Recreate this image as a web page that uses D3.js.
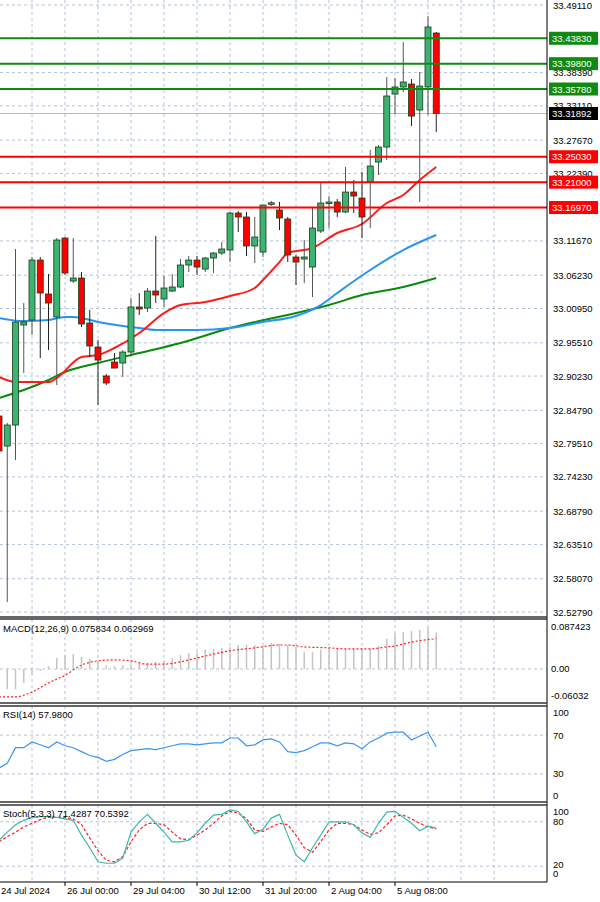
<!DOCTYPE html>
<html>
<head>
<meta charset="utf-8">
<script src="https://cdn.jsdelivr.net/npm/d3@7"></script>
<style>
  body { margin: 0; background: #fff; }
  text { font-family: "Liberation Sans", Arial, sans-serif; font-size: 9.5px; }
</style>
</head>
<body>
<svg id="chart" width="600" height="902"></svg>
<script>
// candle index (4h bars), 0 = 26 Jul 00:00
const idx = d3.range(-8, 46);
const opens  = [32.8389,32.7913,32.8246,32.9833,32.9912,33.0864,33.0325,32.9960,33.1213,33.0531,33.0579,32.9865,32.9484,32.9024,32.9246,32.9230,32.9404,33.0119,33.0103,33.0372,33.0246,33.0372,33.0436,33.0785,33.0864,33.0721,33.0896,33.0975,33.1023,33.1610,33.1547,33.1087,33.0991,33.1765,33.1658,33.1515,33.0912,33.0880,33.0753,33.1325,33.1769,33.1785,33.1626,33.1943,33.1848,33.2102,33.2419,33.2657,33.3498,33.3610,33.3657,33.3245,33.3610,33.4466];
const highs  = [32.8484,32.8278,33.1039,33.0182,33.0912,33.0912,33.0642,33.1213,33.1229,33.1213,33.0674,33.0071,32.9595,32.9055,32.9389,32.9436,33.0261,33.0341,33.0420,33.1245,33.0610,33.0642,33.0880,33.0928,33.0928,33.0912,33.0991,33.1150,33.1626,33.1642,33.1626,33.1547,33.1737,33.1801,33.1785,33.1547,33.0944,33.1182,33.1689,33.2086,33.1880,33.1832,33.2340,33.2134,33.2261,33.2610,33.2689,33.3768,33.3752,33.4324,33.3736,33.3848,33.4736,33.4482];
const lows   = [32.7770,32.5437,32.7691,32.9071,32.9674,32.9309,32.9436,32.8881,33.0626,33.0499,32.9801,32.9325,32.8563,32.8881,32.9150,32.9008,32.9357,32.9992,33.0039,33.0182,33.0119,33.0357,33.0420,33.0674,33.0626,33.0674,33.0658,33.0944,33.0832,33.1309,33.0928,33.0817,33.0912,33.1721,33.1340,33.0832,33.0468,33.0499,33.0277,33.1293,33.1372,33.1547,33.1610,33.1610,33.1213,33.1372,33.2213,33.2451,33.3181,33.3530,33.2991,33.1785,33.3165,33.2895];
const closes = [32.7834,32.8246,32.9881,32.9881,33.0864,33.0341,33.0182,33.1182,33.0658,33.0579,32.9849,32.9500,32.9277,32.8913,32.9150,32.9404,33.0119,33.0087,33.0372,33.0309,33.0420,33.0436,33.0785,33.0864,33.0753,33.0896,33.0975,33.1039,33.1610,33.1547,33.1087,33.1229,33.1737,33.1772,33.1531,33.0944,33.0832,33.0912,33.1372,33.1769,33.1785,33.1626,33.1943,33.1880,33.1547,33.2356,33.2657,33.3467,33.3610,33.3689,33.3149,33.3625,33.4562,33.3189];

// moving averages read at selected bars: [index, value]
const maRed = [[-8,32.9008],[-6,32.8928],[-2,32.8928],[-1,32.8992],[2,32.9325],[4,32.9357],[6,32.9468],[9,32.9706],[12,33.0023],[14,33.0150],[17,33.0198],[20,33.0293],[23,33.0420],[24,33.0547],[26,33.0832],[27,33.0975],[30,33.1055],[33,33.1293],[36,33.1436],[39,33.1769],[41,33.1896],[43,33.2134],[45,33.2340]];
const maBlue = [[-8,32.9944],[-5,32.9896],[-2,32.9912],[0,32.9960],[1,32.9960],[4,32.9881],[7,32.9817],[9,32.9785],[11,32.9754],[16,32.9754],[20,32.9785],[24,32.9881],[28,32.9976],[31,33.0150],[33,33.0341],[37,33.0706],[41,33.1023],[45,33.1261]];
const maGreen = [[-8,32.8675],[-5,32.8801],[-2,32.8960],[0,32.9087],[4,32.9230],[9,32.9389],[14,32.9547],[20,32.9785],[28,33.0023],[32,33.0150],[36,33.0309],[41,33.0436],[45,33.0579]];

const levelsGreen = [33.4383, 33.3980, 33.3578];
const levelsRed = [33.2503, 33.2100, 33.1697];
const lastPrice = 33.31892;
const priceTicks = [33.49110,33.38390,33.33110,33.27670,33.22390,33.11670,33.06230,33.00950,32.95510,32.90230,32.84790,32.79510,32.74230,32.68790,32.63510,32.58070,32.52790];
const priceGrid = [33.49110,33.43830,33.38390,33.33110,33.27670,33.22390,33.16970,33.11670,33.06230,33.00950,32.95510,32.90230,32.84790,32.79510,32.74230,32.68790,32.63510,32.58070,32.52790];

const macdHist = [-0.042,-0.042,-0.042,-0.029,-0.010,-0.004,0.006,0.023,0.029,0.031,0.025,0.021,0.015,0.008,0.006,0.008,0.010,0.013,0.013,0.015,0.017,0.023,0.029,0.033,0.035,0.040,0.042,0.044,0.046,0.050,0.050,0.050,0.048,0.054,0.052,0.050,0.046,0.035,0.035,0.040,0.044,0.042,0.042,0.042,0.042,0.042,0.048,0.063,0.075,0.077,0.079,0.081,0.087,0.0758];
const macdSignal = [[-8,-0.058],[-6,-0.058],[-4,-0.048],[-2,-0.029],[0,-0.013],[2,0.008],[4,0.017],[6,0.019],[8,0.017],[10,0.010],[12,0.010],[14,0.015],[16,0.023],[18,0.031],[20,0.038],[23,0.044],[26,0.050],[27,0.050],[29,0.046],[32,0.044],[34,0.042],[37,0.042],[39,0.046],[40,0.048],[42,0.056],[45,0.063]];

const rsi = [36,41,57,57,63,60,57,63,59,57,53,49,47,43,45,50,54,55,56,55,57,59,61,61,60,61,62,62,67,67,59,60,65,66,63,53,52,54,58,62,62,59,62,61,56,63,67,72,73,73,65,69,73,58];
const stochK = [55,66,76,82,86,87,87,86,84,82,62,45,26,24,24,31,66,80,90,78,66,53,53,55,65,78,89,90,96,94,80,64,70,85,90,62,35,26,45,62,80,80,80,76,65,59,78,93,94,86,78,68,74,71.4];
const stochD = [53,60,66,73,78,83,86,86,86,84,76,58,41,28,26,33,53,69,78,78,76,66,57,56,62,69,78,88,94,92,84,69,67,73,78,76,62,45,39,53,69,78,78,76,69,63,65,76,88,89,84,78,73,70.5];

const dateTicks = [[-8,"24 Jul 2024"],[0,"26 Jul 00:00"],[8,"29 Jul 04:00"],[16,"30 Jul 12:00"],[24,"31 Jul 20:00"],[32,"2 Aug 04:00"],[40,"5 Aug 08:00"]];

const svg = d3.select("#chart");
const plotRight = 547;
const gridColor = "#b4c2d8";

const x = d3.scaleLinear().domain([0, 1]).range([65, 73.25]);
const y = d3.scaleLinear().domain([32.52790, 33.49110]).range([612, 5]);
const yMacd = d3.scaleLinear().domain([-0.06032, 0.087423]).range([698, 627]);
const yRsi = d3.scaleLinear().domain([0, 100]).range([803, 706]);
const ySto = d3.scaleLinear().domain([0, 100]).range([881, 807]);

const panels = [[0, 617], [619, 703], [706, 802], [805, 882]];
const vgrid = d3.range(-8, 56, 4);

// grids
panels.forEach(p => {
  svg.append("g").selectAll("line").data(vgrid).join("line")
    .attr("x1", d => x(d)).attr("x2", d => x(d))
    .attr("y1", p[0]).attr("y2", p[1])
    .attr("stroke", gridColor).attr("stroke-dasharray", "3,3");
});
svg.append("g").selectAll("line").data(priceGrid).join("line")
  .attr("x1", 0).attr("x2", plotRight).attr("y1", d => y(d)).attr("y2", d => y(d))
  .attr("stroke", gridColor).attr("stroke-dasharray", "3,3");
[[yMacd, [0]], [yRsi, [70, 30]], [ySto, [80, 20]]].forEach(([s, vals]) => {
  svg.append("g").selectAll("line").data(vals).join("line")
    .attr("x1", 0).attr("x2", plotRight).attr("y1", d => s(d)).attr("y2", d => s(d))
    .attr("stroke", gridColor).attr("stroke-dasharray", "3,3");
});

// moving averages
const maLine = d3.line().x(d => x(d[0])).y(d => y(d[1])).curve(d3.curveMonotoneX);
[[maGreen, "#0a8a0a"], [maBlue, "#2a93ee"], [maRed, "#ff1a1a"]].forEach(([data, c]) => {
  svg.append("path").datum(data).attr("d", maLine)
    .attr("fill", "none").attr("stroke", c).attr("stroke-width", 2);
});

// current price line
svg.append("line").attr("x1", 0).attr("x2", plotRight)
  .attr("y1", y(lastPrice)).attr("y2", y(lastPrice)).attr("stroke", "#b0bccc");

// candles
const candles = idx.map((d, k) => ({ i: d, o: opens[k], h: highs[k], l: lows[k], c: closes[k] }));
const cg = svg.append("g").selectAll("g").data(candles).join("g");
cg.append("line")
  .attr("x1", d => x(d.i)).attr("x2", d => x(d.i))
  .attr("y1", d => y(d.h)).attr("y2", d => y(d.l))
  .attr("stroke", d => d.c >= d.o ? "#555" : "#222");
cg.append("rect")
  .attr("x", d => x(d.i) - 3).attr("width", 6)
  .attr("y", d => y(Math.max(d.o, d.c)))
  .attr("height", d => Math.max(1.5, Math.abs(y(d.o) - y(d.c))))
  .attr("fill", d => d.c >= d.o ? "#3cb371" : "#ff0000")
  .attr("stroke", "#1a3a1a").attr("stroke-width", 0.8);

// support / resistance levels
const levels = levelsGreen.map(v => ({ v, c: "#108a10" })).concat(levelsRed.map(v => ({ v, c: "#ff0000" })));
svg.append("g").selectAll("line").data(levels).join("line")
  .attr("x1", 0).attr("x2", plotRight).attr("y1", d => y(d.v)).attr("y2", d => y(d.v))
  .attr("stroke", d => d.c).attr("stroke-width", 2);

// panel borders
svg.append("rect").attr("x", 0).attr("y", 0).attr("width", 600).attr("height", 902).attr("fill", "none");
svg.append("line").attr("x1", plotRight).attr("x2", plotRight).attr("y1", 0).attr("y2", 882).attr("stroke", "#000");
[617, 619, 703, 706, 802, 805, 882].forEach(v => {
  svg.append("line").attr("x1", 0).attr("x2", plotRight).attr("y1", v).attr("y2", v)
    .attr("stroke", v === 882 ? "#000" : "#333").attr("stroke-width", v === 882 ? 1 : 1.5);
});

// price axis
svg.append("g").selectAll("text").data(priceTicks).join("text")
  .attr("x", 553).attr("y", d => y(d) + 3.5).attr("fill", "#000").text(d => d.toFixed(5));
const lab = svg.append("g").selectAll("g").data(levels).join("g");
lab.append("rect").attr("x", 549).attr("y", d => y(d.v) - 6.5).attr("width", 49).attr("height", 13).attr("fill", d => d.c);
lab.append("text").attr("x", 552).attr("y", d => y(d.v) + 3.5).attr("fill", "#fff").text(d => d.v.toFixed(5));
svg.append("rect").attr("x", 549).attr("y", y(lastPrice) - 6.5).attr("width", 49).attr("height", 13).attr("fill", "#000");
svg.append("text").attr("x", 552).attr("y", y(lastPrice) + 3.5).attr("fill", "#fff").text(lastPrice.toFixed(5));

// MACD
svg.append("g").selectAll("line").data(idx.map((d, k) => [d, macdHist[k]])).join("line")
  .attr("x1", d => x(d[0])).attr("x2", d => x(d[0]))
  .attr("y1", yMacd(0)).attr("y2", d => yMacd(d[1]))
  .attr("stroke", "#c4c4c4").attr("stroke-width", 1.5);
svg.append("path").datum(macdSignal)
  .attr("d", d3.line().x(d => x(d[0])).y(d => yMacd(d[1])).curve(d3.curveMonotoneX))
  .attr("fill", "none").attr("stroke", "#ff2020").attr("stroke-width", 1.2).attr("stroke-dasharray", "2,2");
svg.append("text").attr("x", 3).attr("y", 632).text("MACD(12,26,9) 0.075834 0.062969");
[[0.087423, "0.087423", 630], [0, "0.00", 672], [-0.06032, "-0.06032", 699]].forEach(t => {
  svg.append("text").attr("x", 551).attr("y", t[2]).text(t[1]);
});

// RSI
svg.append("path").datum(idx.map((d, k) => [d, rsi[k]]))
  .attr("d", d3.line().x(d => x(d[0])).y(d => yRsi(d[1])))
  .attr("fill", "none").attr("stroke", "#3b95f0").attr("stroke-width", 1.2);
svg.append("text").attr("x", 3).attr("y", 718).text("RSI(14) 57.9800");
[[100, 716], [70, yRsi(70) + 3.5], [30, yRsi(30) + 3.5], [0, 799]].forEach(t => {
  svg.append("text").attr("x", 553).attr("y", t[1]).text(t[0]);
});

// Stochastic
svg.append("path").datum(idx.map((d, k) => [d, stochD[k]]))
  .attr("d", d3.line().x(d => x(d[0])).y(d => ySto(d[1])))
  .attr("fill", "none").attr("stroke", "#ff2020").attr("stroke-width", 1.2).attr("stroke-dasharray", "3,2");
svg.append("path").datum(idx.map((d, k) => [d, stochK[k]]))
  .attr("d", d3.line().x(d => x(d[0])).y(d => ySto(d[1])))
  .attr("fill", "none").attr("stroke", "#3cb8a8").attr("stroke-width", 1.2);
svg.append("text").attr("x", 3).attr("y", 817).text("Stoch(5,3,3) 71.4287 70.5392");
[[100, 815], [80, 825], [20, 868], [0, 877]].forEach(t => {
  svg.append("text").attr("x", 553).attr("y", t[1]).text(t[0]);
});

// time axis
svg.append("g").selectAll("line").data(dateTicks).join("line")
  .attr("x1", d => x(d[0])).attr("x2", d => x(d[0])).attr("y1", 882).attr("y2", 886).attr("stroke", "#000");
svg.append("g").selectAll("text").data(dateTicks).join("text")
  .attr("x", d => Math.max(0, x(d[0]) + 2)).attr("y", 894).text(d => d[1]);
</script>
</body>
</html>
